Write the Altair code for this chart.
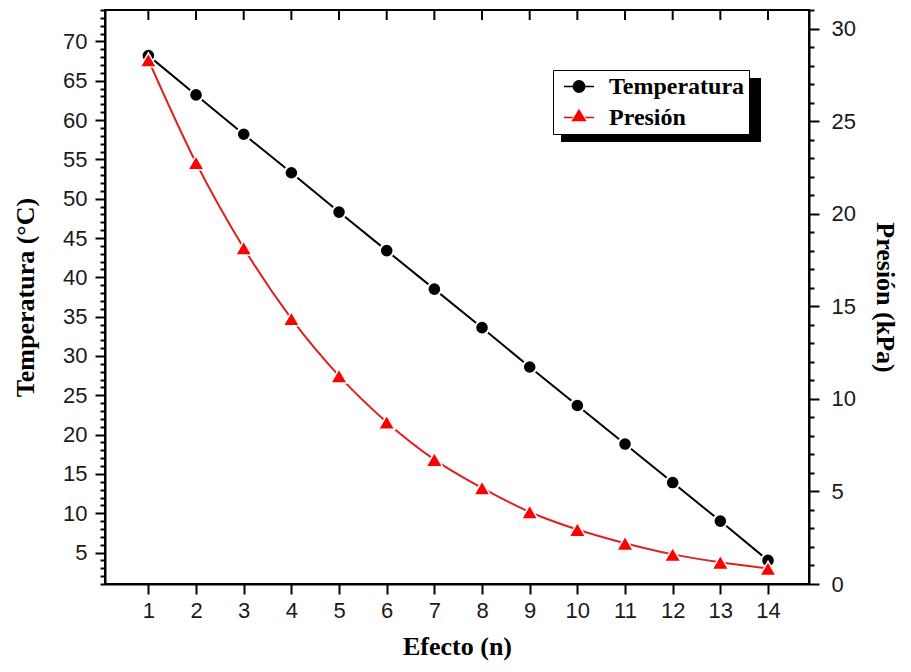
import altair as alt
import pandas as pd

efecto = list(range(1, 15))
temperatura = [68.2, 63.2, 58.2, 53.3, 48.3, 43.4, 38.5, 33.6, 28.6, 23.7, 18.8, 13.9, 9.0, 4.0]
presion = [28.3, 22.75, 18.15, 14.33, 11.24, 8.74, 6.72, 5.19, 3.89, 2.94, 2.2, 1.6, 1.17, 0.84]
series = ["Temperatura", "Presión"]
colores = ["black", "#ff0000"]
ticks_temp = list(range(1, 75))
ticks_pres = list(range(0, 32))

df_t = pd.DataFrame({"efecto": efecto, "valor": temperatura, "serie": series[0]})
df_p = pd.DataFrame({"efecto": efecto, "valor": presion, "serie": series[1]})

sym_circle = "M-1,0H-0.38M0.38,0H1M0.38,0A0.38,0.38 0 1,1 -0.38,0A0.38,0.38 0 1,1 0.38,0Z"
sym_tri = "M-1,0H-0.42M0.42,0H1M0,-0.48L0.42,0.2L-0.42,0.2Z"

legend = alt.Legend(
    title=None, orient="none", legendX=448, legendY=60,
    symbolSize=900, symbolStrokeWidth=1.5, symbolOpacity=1, clipHeight=25,
    symbolOffset=6,
    labelFont="Liberation Serif", labelFontSize=24, labelFontWeight="bold",
    labelColor="black", strokeColor="black", fillColor="white",
    padding=4, rowPadding=6, labelOffset=14,
)
fill_enc = alt.Fill("serie:N", scale=alt.Scale(domain=series, range=colores), legend=legend)
stroke_enc = alt.Stroke("serie:N", scale=alt.Scale(domain=series, range=colores), legend=legend)
shape_enc = alt.Shape("serie:N", scale=alt.Scale(domain=series, range=[sym_circle, sym_tri]), legend=legend)

x_enc = alt.X(
    "efecto:Q",
    scale=alt.Scale(domain=[0.09, 14.86], nice=False, zero=False),
    axis=alt.Axis(values=efecto, title="Efecto (n)", tickSize=10, labelPadding=6, titlePadding=12),
)

axis_left = alt.Axis(
    orient="left", values=ticks_temp, title="Temperatura (°C)",
    labelExpr="datum.value % 5 === 0 ? datum.label : ''",
    tickSize={"condition": {"test": "datum.value % 5 === 0", "value": 10}, "value": 5},
    labelPadding=8, titlePadding=24,
)
axis_right = alt.Axis(
    orient="right", values=ticks_pres, title="Presión (kPa)",
    labelExpr="datum.value % 5 === 0 ? datum.label : ''",
    tickSize={"condition": {"test": "datum.value % 5 === 0", "value": 10}, "value": 5},
    labelPadding=12, titlePadding=16,
)

base_t = alt.Chart(df_t).encode(
    x=x_enc,
    y=alt.Y("valor:Q", scale=alt.Scale(domain=[1, 74], nice=False, zero=False), axis=axis_left),
)
line_t = base_t.mark_line(color="black", strokeWidth=2)
pts_t = base_t.mark_point(shape="circle", filled=True, size=185, fill="black",
                          stroke="white", strokeWidth=2, opacity=1)
leg_t = base_t.mark_point(filled=True, opacity=0).encode(fill=fill_enc, stroke=stroke_enc, shape=shape_enc)
top_ticks = alt.Chart(df_t).mark_rule(color="black", strokeWidth=2).encode(
    x=alt.X("efecto:Q"), y=alt.value(0), y2=alt.value(10)
)
shadow = alt.Chart(pd.DataFrame({"k": [0]})).mark_rect(color="black").encode(
    x=alt.value(456), x2=alt.value(656), y=alt.value(68), y2=alt.value(132)
)

base_p = alt.Chart(df_p).encode(
    x=alt.X("efecto:Q"),
    y=alt.Y("valor:Q", scale=alt.Scale(domain=[0, 31], nice=False, zero=False), axis=axis_right),
)
line_p = base_p.mark_line(color="#dd2222", strokeWidth=2, interpolate="monotone")
pts_p = base_p.mark_point(shape="triangle-up", filled=True, size=270, fill="#ff0000",
                          stroke="white", strokeWidth=1.5, opacity=1)
leg_p = base_p.mark_point(filled=True, opacity=0).encode(fill=fill_enc, stroke=stroke_enc, shape=shape_enc)

chart = alt.layer(
    alt.layer(shadow, line_t, pts_t, leg_t, top_ticks),
    alt.layer(line_p, pts_p, leg_p),
).resolve_scale(y="independent").properties(
    width=704, height=574,
    padding={"left": 97, "top": 2, "right": 94, "bottom": 80},
    autosize=alt.AutoSizeParams(type="none"),
).configure_view(stroke="black", strokeWidth=2).configure_axis(
    labelFont="Liberation Sans", labelFontSize=22, labelColor="#1a1a1a",
    titleFont="Liberation Serif", titleFontSize=26, titleFontWeight="bold", titleColor="black",
    domainColor="black", domainWidth=2, tickColor="black", tickWidth=2, grid=False,
)

chart.save("out.html", embed_options={"renderer": "svg", "actions": False})
